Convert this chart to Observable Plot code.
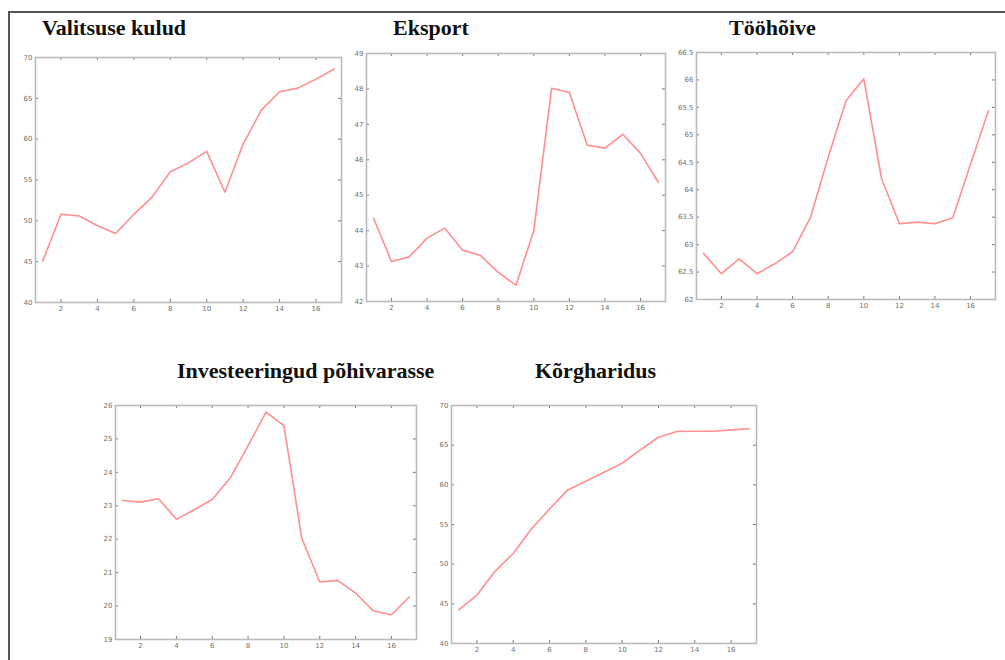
<!DOCTYPE html>
<html><head><meta charset="utf-8">
<script src="https://cdn.jsdelivr.net/npm/d3@7"></script>
<script src="https://cdn.jsdelivr.net/npm/@observablehq/plot@0.6"></script>
<style>
body{margin:0;background:#fff;}
#page{position:relative;width:1005px;height:660px;overflow:hidden;background:#fff;}
.border{position:absolute;left:8px;top:11px;width:1100px;height:800px;border-top:2px solid #555;border-left:2px solid #555;}
.title{position:absolute;font:bold 22px "Liberation Serif","Times New Roman",serif;line-height:22px;color:#111;white-space:nowrap;}
svg.panel{position:absolute;overflow:visible;}
svg.panel text{-webkit-font-smoothing:antialiased;}
</style></head><body><div id="page"><div class="border"></div></div>
<script>
// ---- data ----
const periods = [1,2,3,4,5,6,7,8,9,10,11,12,13,14,15,16,17];
const xTickValues = [2,4,6,8,10,12,14,16];

const titles = ["Valitsuse kulud","Eksport","Tööhõive","Investeeringud põhivarasse","Kõrgharidus"];

const valitsuseKulud = [45.1,50.8,50.6,49.4,48.45,50.8,52.9,56.0,57.1,58.5,53.5,59.4,63.55,65.8,66.25,67.35,68.6];
const eksport = [44.35,43.13,43.26,43.79,44.07,43.45,43.3,42.82,42.46,44.0,48.02,47.9,46.41,46.33,46.72,46.18,45.36];
const toohoive = [62.84,62.47,62.74,62.47,62.65,62.87,63.49,64.59,65.62,66.02,64.2,63.38,63.41,63.38,63.49,64.47,65.44];
const investeeringud = [23.16,23.11,23.21,22.6,22.88,23.19,23.83,24.8,25.8,25.4,22.02,20.72,20.77,20.39,19.85,19.74,20.27];
const korgharidus = [44.25,46.1,49.1,51.35,54.43,56.96,59.36,60.45,61.59,62.72,64.41,66.0,66.72,66.76,66.76,66.93,67.06];

const yTicks1 = [40,45,50,55,60,65,70];
const yTicks2 = [42,43,44,45,46,47,48,49];
const yTicks3 = [62,62.5,63,63.5,64,64.5,65,65.5,66,66.5];
const yTicks4 = [19,20,21,22,23,24,25,26];
const yTicks5 = [40,45,50,55,60,65,70];

// ---- layout (page pixels) ----
const layout = [
  {values: valitsuseKulud, yTicks: yTicks1, frame:[35,341,57,302], titlePos:[42,17]},
  {values: eksport,        yTicks: yTicks2, frame:[366,665,53,301], titlePos:[393,17]},
  {values: toohoive,       yTicks: yTicks3, frame:[696,995,52,299], titlePos:[729,17]},
  {values: investeeringud, yTicks: yTicks4, frame:[115,416,405,639], titlePos:[177,360]},
  {values: korgharidus,    yTicks: yTicks5, frame:[451,756,405,643], titlePos:[535,360]}
];

const page = document.getElementById("page");

layout.forEach((cfg, k) => {
  const mL = 26, mR = 4, mT = 4, mB = 16;
  const w = cfg.frame[1] - cfg.frame[0];
  const h = cfg.frame[3] - cfg.frame[2];
  const data = periods.map((p, i) => ({period: p, value: cfg.values[i]}));
  const yT = cfg.yTicks;
  const inner = yT.slice(1, -1);
  const tk = 3;
  const svg = Plot.plot({
    width: w + mL + mR, height: h + mT + mB,
    marginLeft: mL, marginRight: mR, marginTop: mT, marginBottom: mB,
    x: {domain: [0.6, 17.4], label: null},
    y: {domain: [yT[0], yT[yT.length - 1]], label: null},
    style: {background: "transparent", fontFamily: "DejaVu Sans, sans-serif", overflow: "visible", color: "#6f6f6f"},
    marks: [
      Plot.axisX(xTickValues, {tickSize: 0, tickPadding: 4, fontSize: 7, fill: "#6f6f6f", label: null, tickFormat: d => String(d)}),
      Plot.axisY(yT, {tickSize: 0, tickPadding: 3, fontSize: 7, fill: "#6f6f6f", label: null, tickFormat: d => String(d)}),
      Plot.tickX(xTickValues, {x: d => d, insetTop: h - tk, stroke: "#777"}),
      Plot.tickX(xTickValues, {x: d => d, insetBottom: h - tk, stroke: "#777"}),
      Plot.tickY(inner, {y: d => d, insetRight: w - tk, stroke: "#777"}),
      Plot.tickY(inner, {y: d => d, insetLeft: w - tk, stroke: "#777"}),
      Plot.line(data, {x: "period", y: "value", stroke: "#ff8f8f", strokeWidth: 1.6}),
      Plot.frame({stroke: "#bbb", strokeWidth: 1.6})
    ]
  });
  svg.classList.add("panel");
  svg.style.left = (cfg.frame[0] - mL) + "px";
  svg.style.top = (cfg.frame[2] - mT) + "px";
  page.appendChild(svg);

  const t = document.createElement("div");
  t.className = "title";
  t.textContent = titles[k];
  t.style.left = cfg.titlePos[0] + "px";
  t.style.top = cfg.titlePos[1] + "px";
  page.appendChild(t);
});
</script></body></html>
